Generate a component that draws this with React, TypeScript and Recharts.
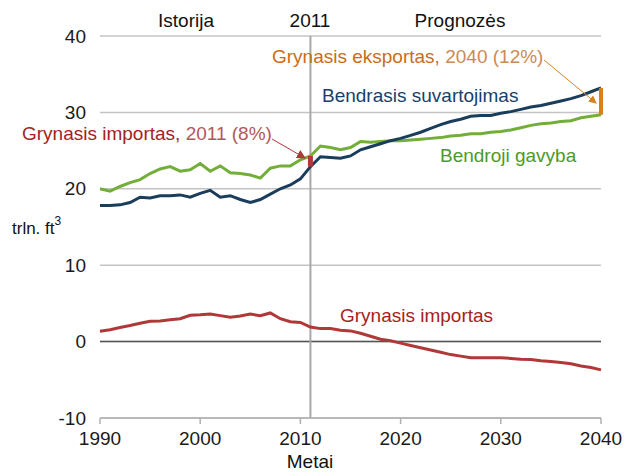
import React from 'react';
import { LineChart, Line, XAxis, YAxis, CartesianGrid, ReferenceLine } from 'recharts';

const years = [1990,1991,1992,1993,1994,1995,1996,1997,1998,1999,2000,2001,2002,2003,2004,2005,2006,2007,2008,2009,2010,2011,2012,2013,2014,2015,2016,2017,2018,2019,2020,2021,2022,2023,2024,2025,2026,2027,2028,2029,2030,2031,2032,2033,2034,2035,2036,2037,2038,2039,2040];
const production = [20.0,19.7,20.3,20.8,21.2,22.0,22.6,22.9,22.3,22.5,23.3,22.3,23.0,22.1,22.0,21.8,21.4,22.7,23.0,23.0,23.8,24.3,25.6,25.4,25.1,25.4,26.2,26.1,26.2,26.3,26.3,26.4,26.5,26.6,26.7,26.9,27.0,27.2,27.2,27.4,27.5,27.7,28.0,28.3,28.5,28.6,28.8,28.9,29.3,29.5,29.7];
const consumption = [17.8,17.8,17.9,18.2,18.9,18.8,19.1,19.1,19.2,18.9,19.4,19.8,18.9,19.1,18.6,18.2,18.6,19.3,20.0,20.5,21.3,22.9,24.2,24.1,24.0,24.3,25.1,25.5,25.9,26.3,26.6,27.0,27.4,27.9,28.4,28.8,29.1,29.5,29.6,29.6,29.9,30.1,30.4,30.7,30.9,31.2,31.5,31.8,32.2,32.7,33.2];
const netImports = [1.35,1.55,1.85,2.1,2.4,2.65,2.7,2.85,3.0,3.45,3.5,3.6,3.4,3.2,3.35,3.6,3.4,3.75,3.0,2.6,2.5,1.9,1.7,1.7,1.5,1.4,1.1,0.7,0.3,0.1,-0.2,-0.5,-0.8,-1.1,-1.4,-1.7,-1.9,-2.1,-2.1,-2.1,-2.1,-2.2,-2.3,-2.35,-2.5,-2.6,-2.75,-2.9,-3.2,-3.4,-3.7];
const xTicks = [1990, 2000, 2010, 2020, 2030, 2040];
const yTicks = [-10, 0, 10, 20, 30, 40];

const data = years.map((y, i) => ({
  year: y,
  production: production[i],
  consumption: consumption[i],
  netImports: netImports[i],
}));

const FONT = '"Liberation Sans", Arial, sans-serif';
const BLUE = '#1a3d5c';
const GREEN = '#74ae3a';
const RED = '#b03838';
const ORANGE = '#d4821e';

const idx2011 = years.indexOf(2011);
const idx2040 = years.indexOf(2040);

const YTick = (props: any) => {
  const { y, payload } = props;
  return (
    <text x={86} y={y} textAnchor="end" dominantBaseline="central" fontFamily={FONT} fontSize={19} fill="#1a1a1a">
      {payload.value}
    </text>
  );
};

const XTick = (props: any) => {
  const { x, y, payload } = props;
  return (
    <text x={x} y={y + 12} textAnchor="middle" dominantBaseline="central" fontFamily={FONT} fontSize={19} fill="#1a1a1a">
      {payload.value}
    </text>
  );
};

export default function App() {
  return (
    <div style={{ position: 'absolute', left: 0, top: 0, width: 625, height: 472, background: '#fff' }}>
      <LineChart width={625} height={472} data={data} margin={{ top: 36, right: 24, bottom: 24, left: 0 }}>
        <CartesianGrid horizontal={true} vertical={false} stroke="#c4c4c4" strokeWidth={1.5} />
        <XAxis
          dataKey="year"
          type="number"
          domain={[1990, 2040]}
          ticks={xTicks}
          axisLine={{ stroke: '#b0b0b0', strokeWidth: 1.5 }}
          tickLine={{ stroke: '#b0b0b0', strokeWidth: 1.5 }}
          tickSize={6}
          tick={<XTick />}
          height={30}
          interval={0}
        />
        <YAxis
          type="number"
          domain={[-10, 40]}
          ticks={yTicks}
          axisLine={false}
          tickLine={false}
          tick={<YTick />}
          width={100}
          interval={0}
        />
        <ReferenceLine y={0} stroke="#555555" strokeWidth={1.5} />
        <ReferenceLine x={2011} stroke="#a8a8a8" strokeWidth={2} />
        <Line type="linear" dataKey="netImports" stroke={RED} strokeWidth={3} dot={false} isAnimationActive={false} />
        <Line type="linear" dataKey="production" stroke={GREEN} strokeWidth={3} dot={false} isAnimationActive={false} />
        <Line type="linear" dataKey="consumption" stroke={BLUE} strokeWidth={3} dot={false} isAnimationActive={false} />
        <ReferenceLine
          segment={[{ x: 2011, y: consumption[idx2011] }, { x: 2011, y: production[idx2011] }]}
          stroke={RED}
          strokeWidth={5}
        />
        <ReferenceLine
          segment={[{ x: 2040, y: production[idx2040] }, { x: 2040, y: consumption[idx2040] }]}
          stroke={ORANGE}
          strokeWidth={4}
        />
      </LineChart>
      <svg width={625} height={472} style={{ position: 'absolute', left: 0, top: 0, pointerEvents: 'none' }}>
        <defs>
          <marker id="arrO" markerWidth="8" markerHeight="8" refX="7" refY="4" orient="auto" markerUnits="userSpaceOnUse">
            <path d="M0,0 L8,4 L0,8 z" fill={ORANGE} />
          </marker>
          <marker id="arrR" markerWidth="9" markerHeight="9" refX="8" refY="4.5" orient="auto" markerUnits="userSpaceOnUse">
            <path d="M0,0 L9,4.5 L0,9 z" fill={RED} />
          </marker>
        </defs>
        <g fontFamily={FONT} fontSize={19}>
          <text x={186} y={20} textAnchor="middle" dominantBaseline="central" fill="#111">Istorija</text>
          <text x={310} y={20} textAnchor="middle" dominantBaseline="central" fill="#111">2011</text>
          <text x={460} y={20} textAnchor="middle" dominantBaseline="central" fill="#111">Prognozės</text>
          <text x={272} y={56} dominantBaseline="central" fill="#cb6c1a">Grynasis eksportas,<tspan fill="#cc8a52"> 2040 (12%)</tspan></text>
          <text x={322} y={95} dominantBaseline="central" fill="#183f6a">Bendrasis suvartojimas</text>
          <text x={22} y={133} dominantBaseline="central" fill="#a52222">Grynasis importas,<tspan fill="#b35858"> 2011 (8%)</tspan></text>
          <text x={440} y={155} dominantBaseline="central" fill="#4c9a2a">Bendroji gavyba</text>
          <text x={340} y={315} dominantBaseline="central" fill="#a52222">Grynasis importas</text>
          <text x={12} y={228} dominantBaseline="central" fill="#111" fontSize={17}>trln. ft<tspan dy={-7} fontSize={12}>3</tspan></text>
          <text x={310} y={461} textAnchor="middle" dominantBaseline="central" fill="#111">Metai</text>
        </g>
        <line x1={544} y1={60} x2={596} y2={103} stroke={ORANGE} strokeWidth={1} markerEnd="url(#arrO)" />
        <line x1={272} y1={139} x2={305} y2={158} stroke={RED} strokeWidth={1} markerEnd="url(#arrR)" />
      </svg>
    </div>
  );
}
